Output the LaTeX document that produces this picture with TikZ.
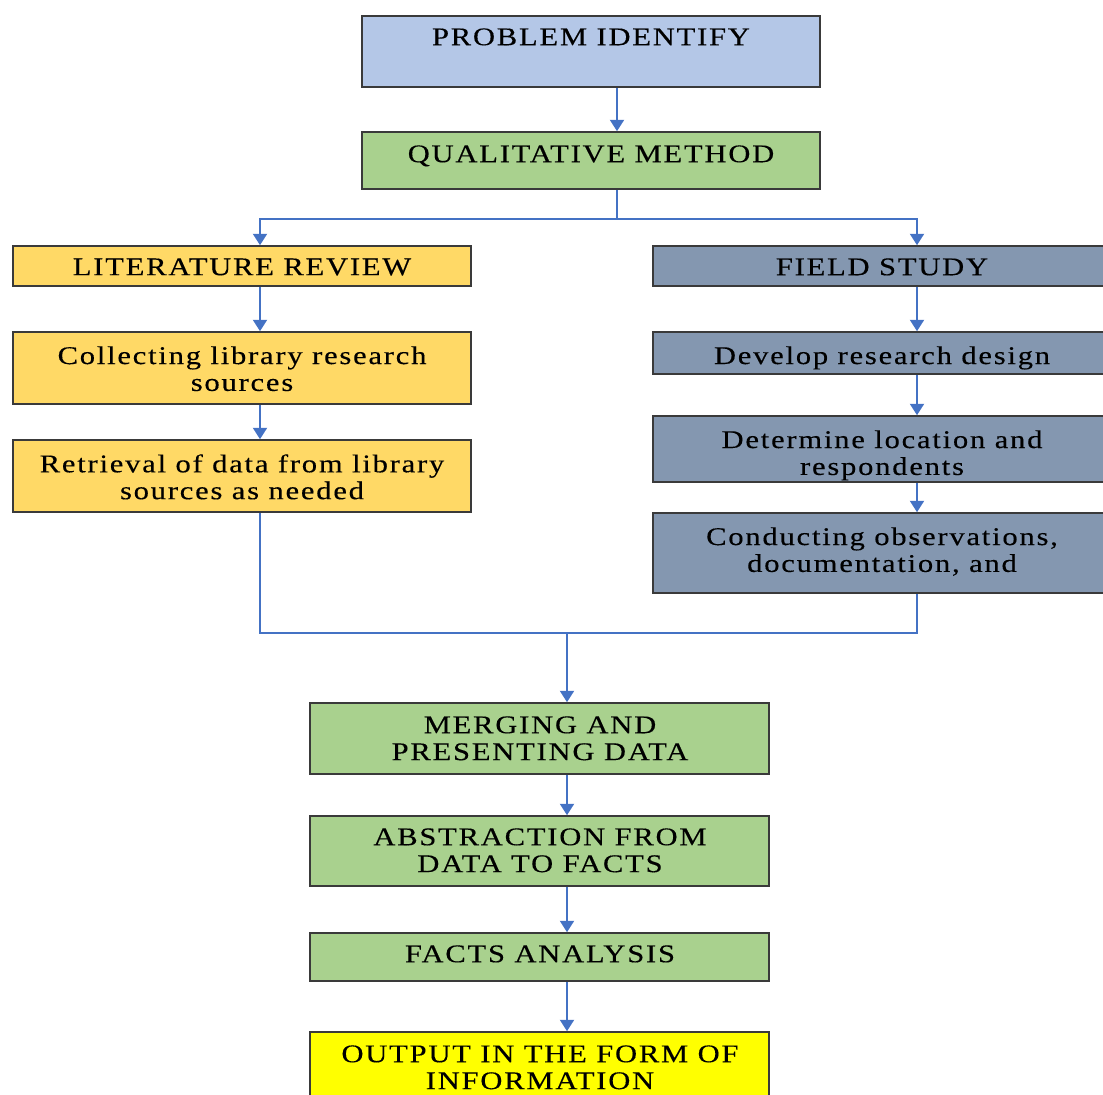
\documentclass[tikz,border=0pt]{standalone}
\usepackage{fontspec}
\newfontfamily\boxfont{Liberation Serif}[LetterSpace=7,FakeStretch=1.2,FakeBold=0.3]
\usetikzlibrary{arrows.meta,fit}
\definecolor{probblue}{HTML}{B4C7E7}
\definecolor{methgreen}{HTML}{A9D18E}
\definecolor{litgold}{HTML}{FFD966}
\definecolor{fieldslate}{HTML}{8497B0}
\definecolor{outyellow}{HTML}{FFFF00}
\definecolor{linkblue}{HTML}{4472C4}
\definecolor{rimgray}{HTML}{3A3A3A}
\begin{document}
\begin{tikzpicture}[x=0.02cm,y=-0.02cm,
  box/.style={draw=rimgray,line width=0.9pt,inner sep=0pt},
  lbl/.style={anchor=north,inner sep=0pt,align=center,font=\boxfont\fontsize{14.5}{15.3}\selectfont},
  conn/.style={draw=linkblue,line width=1.05pt},
  arr/.style={conn,-{Triangle[width=8pt,length=6.5pt]}}]
\useasboundingbox (0,0) rectangle (1103,1095);
% Column lines of the connectors.
\coordinate (colM) at (617,0);
\coordinate (colL) at (260,0);
\coordinate (colR) at (917,0);
\coordinate (colB) at (567,0);
% Top boxes.
\node[box,fill=probblue,fit={(362,16) (820,87)}] (prob) {};
\node[lbl] (prob-t) at (591,28) {PROBLEM IDENTIFY};
\node[box,fill=methgreen,fit={(362,132) (820,189)}] (qual) {};
\node[lbl] (qual-t) at (591,145) {QUALITATIVE METHOD};
% Left branch: library research.
\node[box,fill=litgold,fit={(13,246) (471,286)}] (lit) {};
\node[lbl] (lit-t) at (242,258) {LITERATURE REVIEW};
\node[box,fill=litgold,fit={(13,332) (471,404)}] (coll) {};
\node[lbl] (coll-t) at (242,346) {Collecting library research\\sources};
\node[box,fill=litgold,fit={(13,440) (471,512)}] (retr) {};
\node[lbl] (retr-t) at (242,454) {Retrieval of data from library\\sources as needed};
% Right branch: field study.
\node[box,fill=fieldslate,fit={(653,246) (1111,286)}] (field) {};
\node[lbl] (field-t) at (882,258) {FIELD STUDY};
\node[box,fill=fieldslate,fit={(653,332) (1111,374)}] (dev) {};
\node[lbl] (dev-t) at (882,346) {Develop research design};
\node[box,fill=fieldslate,fit={(653,416) (1111,482)}] (det) {};
\node[lbl] (det-t) at (882,430) {Determine location and\\respondents};
\node[box,fill=fieldslate,fit={(653,513) (1111,593)}] (cond) {};
\node[lbl] (cond-t) at (882,527) {Conducting observations,\\documentation, and};
% Bottom chain.
\node[box,fill=methgreen,fit={(310,703) (769,774)}] (merg) {};
\node[lbl] (merg-t) at (540,716) {MERGING AND\\PRESENTING DATA};
\node[box,fill=methgreen,fit={(310,816) (769,886)}] (abst) {};
\node[lbl] (abst-t) at (540,828) {ABSTRACTION FROM\\DATA TO FACTS};
\node[box,fill=methgreen,fit={(310,933) (769,981)}] (fact) {};
\node[lbl] (fact-t) at (540,945) {FACTS ANALYSIS};
\node[box,fill=outyellow,fit={(310,1032) (769,1110)}] (outp) {};
\node[lbl] (outp-t) at (540,1045) {OUTPUT IN THE FORM OF\\INFORMATION};
% Connectors.
\coordinate (split) at (617,219);
\coordinate (join) at (567,633);
\draw[arr] (prob.south -| colM) -- (qual.north -| colM);
\draw[arr] (qual.south -| colM) -- (split) -| (lit.north -| colL);
\draw[arr] (split) -| (field.north -| colR);
\draw[arr] (lit.south -| colL) -- (coll.north -| colL);
\draw[arr] (coll.south -| colL) -- (retr.north -| colL);
\draw[arr] (field.south -| colR) -- (dev.north -| colR);
\draw[arr] (dev.south -| colR) -- (det.north -| colR);
\draw[arr] (det.south -| colR) -- (cond.north -| colR);
\draw[conn] (retr.south -| colL) |- (join) -| (cond.south -| colR);
\draw[arr] (join) -- (merg.north -| colB);
\draw[arr] (merg.south -| colB) -- (abst.north -| colB);
\draw[arr] (abst.south -| colB) -- (fact.north -| colB);
\draw[arr] (fact.south -| colB) -- (outp.north -| colB);
\end{tikzpicture}
\end{document}
